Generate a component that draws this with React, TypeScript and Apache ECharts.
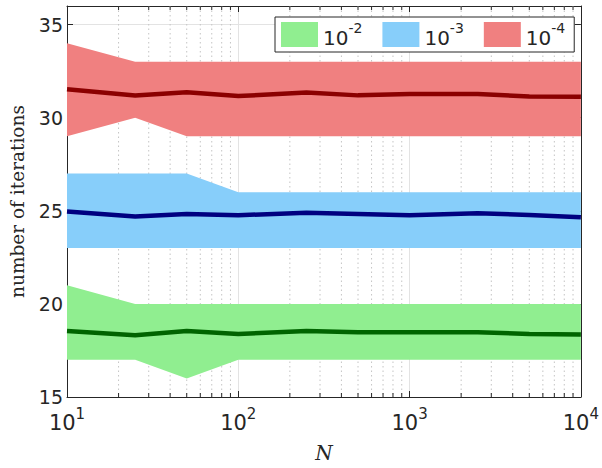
import React, { useEffect, useRef } from "react";
import * as echarts from "echarts";

const N = [10, 25, 50, 100, 250, 500, 1000, 2500, 5000, 10000];
const tol2Min = [17, 17, 16, 17, 17, 17, 17, 17, 17, 17];
const tol2Max = [21, 20, 20, 20, 20, 20, 20, 20, 20, 20];
const tol2Mean = [18.54, 18.32, 18.55, 18.38, 18.55, 18.48, 18.48, 18.48, 18.38, 18.36];
const tol3Min = [23, 23, 23, 23, 23, 23, 23, 23, 23, 23];
const tol3Max = [27, 27, 27, 26, 26, 26, 26, 26, 26, 26];
const tol3Mean = [24.96, 24.69, 24.83, 24.76, 24.9, 24.83, 24.76, 24.87, 24.78, 24.65];
const tol4Min = [29, 30, 29, 29, 29, 29, 29, 29, 29, 29];
const tol4Max = [34, 33, 33, 33, 33, 33, 33, 33, 33, 33];
const tol4Mean = [31.53, 31.19, 31.37, 31.16, 31.36, 31.2, 31.27, 31.27, 31.14, 31.12];
const tolNames = ["10^-2", "10^-3", "10^-4"];
const minorX = [20, 30, 40, 50, 60, 70, 80, 90, 200, 300, 400, 500, 600, 700, 800, 900, 2000, 3000, 4000, 5000, 6000, 7000, 8000, 9000];
const yTicks = [15, 20, 25, 30, 35];

const AX = "#262626";
const SANS = "DejaVu Sans";

const supRich = (big: number, small: number) => ({
  b: { fontSize: big, fontFamily: SANS, color: AX, lineHeight: 27, verticalAlign: "bottom" },
  s: { fontSize: small, fontFamily: SANS, color: AX, lineHeight: 14, verticalAlign: "top" },
});

function bandSeries(name: string, lo: number[], hi: number[], color: string) {
  return {
    type: "custom",
    name,
    z: 2,
    itemStyle: { color },
    encode: { x: 0, y: [1, 2] },
    data: N.map((x, i) => [x, lo[i], hi[i]]),
    renderItem: (params: any, api: any) => {
      if (params.dataIndexInside !== 0) return null;
      const n = params.dataInsideLength;
      const top: number[][] = [];
      const bot: number[][] = [];
      for (let i = 0; i < n; i++) {
        const x = api.value(0, i);
        top.push(api.coord([x, api.value(2, i)]));
        bot.push(api.coord([x, api.value(1, i)]));
      }
      return {
        type: "polygon",
        shape: { points: top.concat(bot.reverse()) },
        style: { fill: color, stroke: null },
      };
    },
  };
}

function meanSeries(name: string, vals: number[], color: string) {
  return {
    type: "line",
    name,
    z: 5,
    symbol: "none",
    data: N.map((x, i) => [x, vals[i]]),
    lineStyle: { color, width: 4.5 },
    itemStyle: { color },
  };
}

export default function App() {
  const ref = useRef<HTMLDivElement>(null);
  useEffect(() => {
    if (!ref.current) return;
    const chart = echarts.init(ref.current, null, { renderer: "svg" });
    const xLabel = (v: number) => `{b|10}{s|${Math.round(Math.log10(v))}}`;
    chart.setOption({
      animation: false,
      backgroundColor: "#ffffff",
      grid: { left: 66, right: 16, top: 6, bottom: 68, containLabel: false },
      legend: {
        left: 275,
        top: 17,
        padding: [4, 9, 4, 6],
        itemWidth: 37,
        itemHeight: 25,
        itemGap: 20,
        borderColor: AX,
        borderWidth: 1,
        backgroundColor: "#ffffff",
        data: [
          { name: tolNames[0], icon: "rect", itemStyle: { color: "#90ee90" } },
          { name: tolNames[1], icon: "rect", itemStyle: { color: "#87cefa" } },
          { name: tolNames[2], icon: "rect", itemStyle: { color: "#f08080" } },
        ],
        formatter: (name: string) => `{b|10}{s|${name.split("^")[1]}}`,
        textStyle: { rich: supRich(20, 14) },
        selectedMode: false,
      },
      xAxis: [
        {
          type: "log",
          logBase: 10,
          min: 10,
          max: 10000,
          position: "bottom",
          name: "N",
          nameLocation: "middle",
          nameGap: 46,
          nameTextStyle: { fontFamily: "DejaVu Serif", fontStyle: "italic", fontSize: 20, color: AX },
          axisLine: { show: true, lineStyle: { color: AX, width: 1 } },
          axisTick: { show: true, inside: true, length: 6, lineStyle: { color: AX } },
          axisLabel: { formatter: xLabel, margin: 9, rich: supRich(21, 15) },
          splitLine: { show: true, lineStyle: { color: "#e3e3e3", width: 1 } },
        },
        {
          type: "log",
          logBase: 10,
          min: 10,
          max: 10000,
          position: "top",
          axisLine: { show: true, lineStyle: { color: AX, width: 1 } },
          axisTick: { show: true, inside: true, length: 6, lineStyle: { color: AX } },
          axisLabel: { show: false },
          splitLine: { show: false },
        },
      ],
      yAxis: [
        {
          type: "value",
          min: 15,
          max: 36,
          interval: 5,
          position: "left",
          name: "number of iterations",
          nameLocation: "middle",
          nameGap: 40,
          nameTextStyle: { fontFamily: "DejaVu Serif", fontSize: 18.5, color: AX },
          axisLine: { show: true, lineStyle: { color: AX, width: 1 } },
          axisTick: { show: true, inside: true, length: 6, lineStyle: { color: AX } },
          axisLabel: {
            margin: 4,
            fontFamily: SANS,
            fontSize: 19,
            color: AX,
            formatter: (v: number) => (yTicks.indexOf(v) >= 0 ? String(v) : ""),
          },
          splitLine: { show: true, lineStyle: { color: "#e3e3e3", width: 1 } },
        },
        {
          type: "value",
          min: 15,
          max: 36,
          interval: 5,
          position: "right",
          axisLine: { show: true, lineStyle: { color: AX, width: 1 } },
          axisTick: { show: true, inside: true, length: 6, lineStyle: { color: AX } },
          axisLabel: { show: false },
          splitLine: { show: false },
        },
      ],
      series: [
        {
          type: "custom",
          name: "minor",
          z: 1,
          silent: true,
          encode: { x: 0, y: 1 },
          data: minorX.map((x) => [x, 15]),
          renderItem: (params: any, api: any) => {
            const cs = params.coordSys;
            const px = api.coord([api.value(0), api.value(1)])[0];
            const top = cs.y;
            const bottom = cs.y + cs.height;
            return {
              type: "group",
              children: [
                {
                  type: "line",
                  shape: { x1: px, y1: top, x2: px, y2: bottom },
                  style: { stroke: "#c4c4c4", lineWidth: 1, lineDash: [1.5, 3] },
                },
                {
                  type: "line",
                  z2: 10,
                  shape: { x1: px, y1: bottom, x2: px, y2: bottom - 4 },
                  style: { stroke: AX, lineWidth: 1 },
                },
                {
                  type: "line",
                  z2: 10,
                  shape: { x1: px, y1: top, x2: px, y2: top + 4 },
                  style: { stroke: AX, lineWidth: 1 },
                },
              ],
            };
          },
        },
        bandSeries(tolNames[0], tol2Min, tol2Max, "#90ee90"),
        bandSeries(tolNames[1], tol3Min, tol3Max, "#87cefa"),
        bandSeries(tolNames[2], tol4Min, tol4Max, "#f08080"),
        meanSeries("mean2", tol2Mean, "#006400"),
        meanSeries("mean3", tol3Mean, "#000080"),
        meanSeries("mean4", tol4Mean, "#8b0000"),
      ],
    });
    return () => chart.dispose();
  }, []);
  return <div ref={ref} style={{ position: "absolute", left: 0, top: 0, width: 602, height: 468 }} />;
}
